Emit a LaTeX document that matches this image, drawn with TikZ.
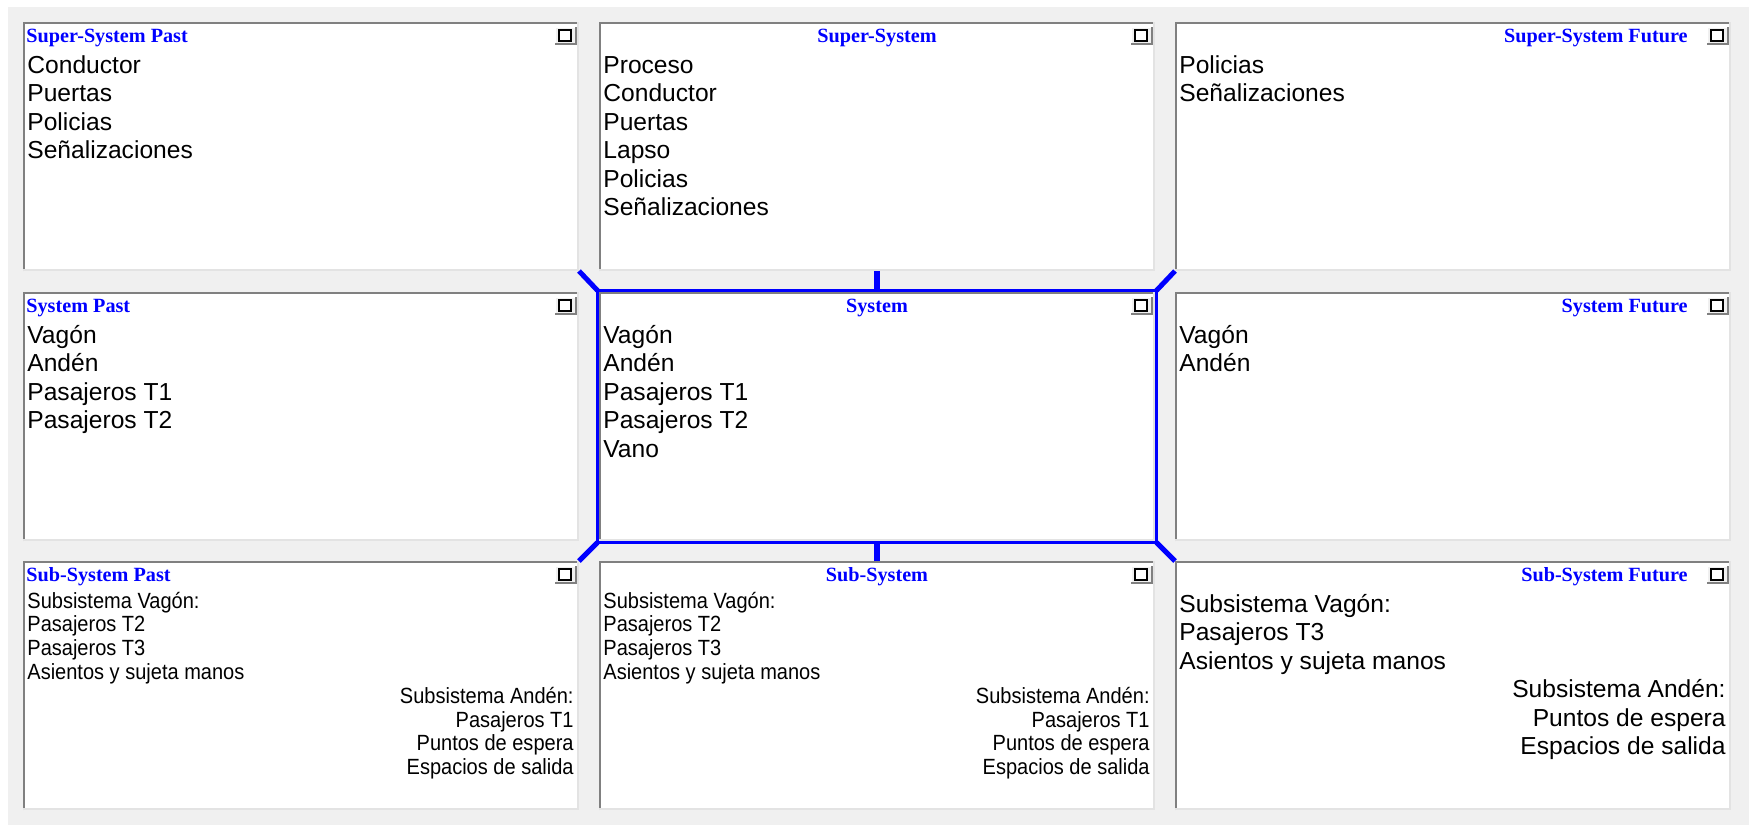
\documentclass[tikz,border=0pt]{standalone}
\usepackage{fontspec}
\setmainfont{Liberation Sans}
\newfontfamily\titlefont{Liberation Serif}
\newfontfamily\narrowfont[FakeStretch=0.91]{Liberation Sans}
\usepackage{tikz}

\definecolor{winbg}{HTML}{F0F0F0}
\definecolor{edgedark}{HTML}{808080}
\definecolor{edgelight}{HTML}{E3E3E3}
\definecolor{linkblue}{HTML}{0000FF}

\tikzset{
  panel/.style={rectangle, fill=white, anchor=north west, inner sep=0pt, outer sep=0pt,
    minimum width=278pt, minimum height=124.5pt},
  heading/.style={font=\titlefont\bfseries\fontsize{10.1}{12}\selectfont, text=linkblue, inner sep=0pt},
  item/.style={font=\fontsize{12.3}{14}\selectfont, inner sep=0pt, anchor=base west},
  itemright/.style={item, anchor=base east},
  smallitem/.style={font=\narrowfont\fontsize{11}{13}\selectfont, inner sep=0pt, anchor=base west},
  smallright/.style={smallitem, anchor=base east},
  sysline/.style={draw=linkblue, line width=1.5pt},
  link/.style={draw=linkblue, line width=2.5pt},
  tick/.style={draw=linkblue, line width=3pt},
}

\begin{document}
\begin{tikzpicture}[x=0.5pt, y=-0.5pt]
    \useasboundingbox (0,0) rectangle (1753,827);

    % draw window background
    \fill[winbg] (8,7) rectangle (1749,825);

    % draw the nine panels
    \node[panel] (ssp)  at (23,22)    {};
    \node[panel] (ss)   at (599,22)   {};
    \node[panel] (ssf)  at (1175,22)  {};
    \node[panel] (sp)   at (23,292)   {};
    \node[panel] (sys)  at (599,292)  {};
    \node[panel] (sf)   at (1175,292) {};
    \node[panel] (subp) at (23,561)   {};
    \node[panel] (sub)  at (599,561)  {};
    \node[panel] (subf) at (1175,561) {};

    % draw sunken edges and the small buttons
    \foreach \p in {ssp,ss,ssf,sp,sys,sf,subp,sub,subf} {
        \draw[edgedark, line width=1pt] ([xshift=0.5pt]\p.south west) -- ([xshift=0.5pt,yshift=-0.5pt]\p.north west) -- ([yshift=-0.5pt]\p.north east);
        \draw[edgelight, line width=0.8pt] ([xshift=-0.4pt]\p.north east) -- ([xshift=-0.4pt,yshift=0.4pt]\p.south east) -- ([yshift=0.4pt]\p.south west);
        \fill[winbg] ([xshift=-12pt,yshift=-2.5pt]\p.north east) rectangle ([xshift=-1.5pt,yshift=-11pt]\p.north east);
        \draw[white, line width=0.5pt] ([xshift=-12pt,yshift=-11pt]\p.north east) -- ([xshift=-12pt,yshift=-2.5pt]\p.north east) -- ([xshift=-1.5pt,yshift=-2.5pt]\p.north east);
        \draw[edgedark, line width=0.8pt] ([xshift=-1.5pt,yshift=-2.5pt]\p.north east) -- ([xshift=-1.5pt,yshift=-11pt]\p.north east) -- ([xshift=-12pt,yshift=-11pt]\p.north east);
        \draw[black, line width=0.6pt, fill=white] ([xshift=-10pt,yshift=-3.8pt]\p.north east) rectangle ([xshift=-4pt,yshift=-9.5pt]\p.north east);
        \draw[black, line width=1.2pt] ([xshift=-10pt,yshift=-4.1pt]\p.north east) -- ([xshift=-4pt,yshift=-4.1pt]\p.north east);
    }

    % draw panel headings
    \node[heading, anchor=base west] (ssp-title)  at ([xshift=1.5pt,yshift=-10pt]ssp.north west)  {Super-System Past};
    \node[heading, anchor=base]      (ss-title)   at ([yshift=-10pt]ss.north)                      {Super-System};
    \node[heading, anchor=base east] (ssf-title)  at ([xshift=-21.5pt,yshift=-10pt]ssf.north east) {Super-System Future};
    \node[heading, anchor=base west] (sp-title)   at ([xshift=1.5pt,yshift=-10pt]sp.north west)   {System Past};
    \node[heading, anchor=base]      (sys-title)  at ([yshift=-10pt]sys.north)                     {System};
    \node[heading, anchor=base east] (sf-title)   at ([xshift=-21.5pt,yshift=-10pt]sf.north east)  {System Future};
    \node[heading, anchor=base west] (subp-title) at ([xshift=1.5pt,yshift=-10pt]subp.north west) {Sub-System Past};
    \node[heading, anchor=base]      (sub-title)  at ([yshift=-10pt]sub.north)                     {Sub-System};
    \node[heading, anchor=base east] (subf-title) at ([xshift=-21.5pt,yshift=-10pt]subf.north east) {Sub-System Future};

    % draw super-system items
    \foreach \t [count=\i] in {Conductor, Puertas, Policias, Señalizaciones}
        \node[item] (ssp-\i) at ([xshift=2pt,yshift={-25.5pt-(\i-1)*14.25pt}]ssp.north west) {\t};
    \foreach \t [count=\i] in {Proceso, Conductor, Puertas, Lapso, Policias, Señalizaciones}
        \node[item] (ss-\i) at ([xshift=2pt,yshift={-25.5pt-(\i-1)*14.25pt}]ss.north west) {\t};
    \foreach \t [count=\i] in {Policias, Señalizaciones}
        \node[item] (ssf-\i) at ([xshift=2pt,yshift={-25.5pt-(\i-1)*14.25pt}]ssf.north west) {\t};

    % draw system items
    \foreach \t [count=\i] in {Vagón, Andén, Pasajeros T1, Pasajeros T2}
        \node[item] (sp-\i) at ([xshift=2pt,yshift={-25.5pt-(\i-1)*14.25pt}]sp.north west) {\t};
    \foreach \t [count=\i] in {Vagón, Andén, Pasajeros T1, Pasajeros T2, Vano}
        \node[item] (sys-\i) at ([xshift=2pt,yshift={-25.5pt-(\i-1)*14.25pt}]sys.north west) {\t};
    \foreach \t [count=\i] in {Vagón, Andén}
        \node[item] (sf-\i) at ([xshift=2pt,yshift={-25.5pt-(\i-1)*14.25pt}]sf.north west) {\t};

    % draw sub-system items
    \foreach \p in {subp, sub} {
        \foreach \t [count=\i] in {Subsistema Vagón:, Pasajeros T2, Pasajeros T3, Asientos y sujeta manos}
            \node[smallitem] (\p-\i) at ([xshift=2pt,yshift={-23.5pt-(\i-1)*11.9pt}]\p.north west) {\t};
        \foreach \t [count=\i from 5] in {Subsistema Andén:, Pasajeros T1, Puntos de espera, Espacios de salida}
            \node[smallright] (\p-\i) at ([xshift=-2.5pt,yshift={-23.5pt-(\i-1)*11.9pt}]\p.north east) {\t};
    }
    \foreach \t [count=\i] in {Subsistema Vagón:, Pasajeros T3, Asientos y sujeta manos}
        \node[item] (subf-\i) at ([xshift=2pt,yshift={-25.5pt-(\i-1)*14.25pt}]subf.north west) {\t};
    \foreach \t [count=\i from 4] in {Subsistema Andén:, Puntos de espera, Espacios de salida}
        \node[itemright] (subf-\i) at ([xshift=-2.5pt,yshift={-25.5pt-(\i-1)*14.25pt}]subf.north east) {\t};

    % draw blue frame round the system panel
    \coordinate (sysnw) at ([xshift=-0.75pt,yshift=0.75pt]sys.north west);
    \coordinate (sysne) at ([xshift=0.75pt,yshift=0.75pt]sys.north east);
    \coordinate (syssw) at ([xshift=-0.75pt,yshift=-0.75pt]sys.south west);
    \coordinate (sysse) at ([xshift=0.75pt,yshift=-0.75pt]sys.south east);
    \coordinate (sysn)  at ([yshift=0.75pt]sys.north);
    \coordinate (syss)  at ([yshift=-0.75pt]sys.south);
    \draw[sysline] (sysnw) rectangle (sysse);

    % draw links to the neighbour panels
    \draw[link] (ssp.south east) -- (sysnw);
    \draw[link] (ssf.south west) -- (sysne);
    \draw[link] (subp.north east) -- (syssw);
    \draw[link] (subf.north west) -- (sysse);
    \draw[tick] (ss.south) -- (sysn);
    \draw[tick] (sub.north) -- (syss);

\end{tikzpicture}
\end{document}
